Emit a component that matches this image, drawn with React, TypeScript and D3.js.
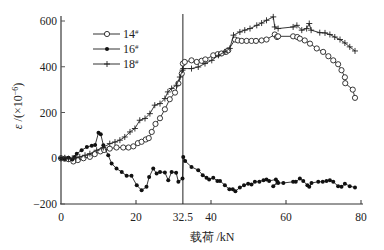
import React from "react";
import * as d3 from "d3";

const xTicks = [0, 20, 32.5, 40, 60, 80];
const yTicks = [-200, 0, 200, 400, 600];

const s14x = [0,1,2,3.3,4.5,6,7.7,9,10.5,11.5,13,14.8,16.6,18,19.3,20.5,21.5,22.6,23.4,24.2,25.2,26.4,27.7,29,30.4,31.3,32.2,32.5,33,34.8,36.2,37.5,38.5,40.6,41.8,42.8,44,44.6,46.4,47.2,48.2,49.5,50.8,52,53.5,54.8,57,57.6,57.9,61.9,63,63.7,65,66.4,68.2,69.9,71.3,72.6,73.9,74.8,75.7,75.8,77.8,78.4];
const s14y = [0,-2,-4,-14,-8,0,6,18,30,36,42,47,47,47,52,66,72,82,88,115,150,175,214,258,287,327,370,414,421,428,421,426,432,450,455,458,465,472,519,515,513,513,513,513,515,519,541,530,533,533,530,523,515,501,480,465,446,428,411,385,354,328,300,264];

const s16x = [0,1,2,3,3.6,4.2,5.5,6.9,8.2,9.1,10,10.6,11.3,12.6,13.5,14.8,16.2,17.5,18.8,20.2,21.5,22.8,23.5,24.6,25.5,26.4,27.7,28.6,29.5,30.7,31.3,32.4,32.6,33.1,34.8,36.6,37.8,38.8,39.5,40.6,41.7,42.4,43.7,44.9,45.8,46.5,47.7,48.8,49.9,50.8,51.7,52.9,54,54.8,55.5,57.3,57.7,56.6,57.9,59.3,61.9,62.6,63.7,64.6,65.7,66.2,66.8,68.6,69.8,70.8,71.7,72.6,73.9,74.8,75.7,77,78.4];
const s16y = [0,-3,2,-5,5,20,35,49,55,58,111,105,57,13,-23,-45,-60,-77,-77,-118,-140,-125,-82,-45,-67,-60,-62,-96,-60,-63,-103,-89,6,-12,-38,-52,-74,-85,-93,-85,-99,-99,-118,-136,-136,-144,-128,-118,-111,-115,-103,-103,-96,-93,-99,-93,-103,-122,-108,-108,-103,-103,-89,-99,-118,-125,-108,-103,-103,-99,-96,-103,-122,-125,-111,-122,-128];

const s18x = [0,1,2,3,4,5,6.4,7.7,9.5,11.3,13,14.4,15.7,17,18.4,19.7,21,22.4,23.7,25,26.4,27.7,28.5,29.5,30.8,31.7,32.4,32.6,34.8,36.6,38.4,40.2,42,43.7,45,46,47.7,49,50.4,52.2,53.5,54.8,56.6,57,57.9,61.9,62.9,64.2,65.5,66.2,66.7,69,70.4,71.7,73,74.4,75.7,77,78.4];
const s18y = [0,2,-2,0,2,6,13,20,35,47,64,71,79,93,115,130,166,174,195,232,239,261,290,305,319,355,385,392,392,399,414,428,450,465,480,538,552,560,567,581,591,603,618,574,567,574,581,560,567,589,560,549,548,541,530,519,504,487,469];

const legendLabels = ["14", "16", "18"];

const W = 384, H = 250;
const x = d3.scaleLinear().domain([0, 80]).range([61, 361]);
const y = d3.scaleLinear().domain([-200, 600]).range([204, 21]);
const line = d3.line<[number, number]>().x(d => x(d[0])).y(d => y(d[1]));
const zip = (a: number[], b: number[]) => a.map((v, i) => [v, b[i]] as [number, number]);

const FONT = "'Liberation Serif', 'DejaVu Serif', serif";

function Marker({ kind, cx, cy }: { kind: string; cx: number; cy: number }) {
  if (kind === "circle") return <circle cx={cx} cy={cy} r={2.6} fill="white" stroke="#222" strokeWidth={0.9} />;
  if (kind === "dot") return <circle cx={cx} cy={cy} r={2} fill="#111" />;
  return <path d={`M${cx - 3},${cy}H${cx + 3}M${cx},${cy - 3}V${cy + 3}`} stroke="#222" strokeWidth={0.9} />;
}

export default function App() {
  const series = [
    { kind: "circle", pts: zip(s14x, s14y) },
    { kind: "dot", pts: zip(s16x, s16y) },
    { kind: "plus", pts: zip(s18x, s18y) },
  ];
  return (
    <svg width={W} height={H} style={{ position: "absolute", left: 0, top: 0, background: "white" }} fontFamily={FONT}>
      {/* axes */}
      <line x1={61} y1={16} x2={61} y2={204} stroke="#888" strokeWidth={2} />
      <line x1={60} y1={204} x2={363} y2={204} stroke="#333" strokeWidth={1} />
      {yTicks.map(t => (
        <g key={t}>
          <line x1={61} x2={65} y1={y(t)} y2={y(t)} stroke="#555" strokeWidth={1} />
          <text x={57} y={y(t) + 4} textAnchor="end" fontSize={11.5} fill="#222">{t < 0 ? "\u2212" + Math.abs(t) : t}</text>
        </g>
      ))}
      {xTicks.map(t => (
        <g key={t}>
          {t !== 32.5 && t !== 0 && <line x1={x(t)} x2={x(t)} y1={204} y2={200} stroke="#333" strokeWidth={1} />}
          <text x={x(t)} y={221} textAnchor="middle" fontSize={11.5} fill="#222">{t}</text>
        </g>
      ))}
      <line x1={x(32.5)} x2={x(32.5)} y1={14} y2={204} stroke="#222" strokeWidth={1} />
      {/* series */}
      {series.map((s, i) => (
        <g key={i}>
          <path d={line(s.pts) || ""} fill="none" stroke="#222" strokeWidth={0.9} />
          {s.pts.map((p, j) => <Marker key={j} kind={s.kind} cx={x(p[0])} cy={y(p[1])} />)}
        </g>
      ))}
      {/* legend */}
      {series.map((s, i) => {
        const ly = 34 + i * 15;
        return (
          <g key={i}>
            <line x1={93} x2={120} y1={ly} y2={ly} stroke="#333" strokeWidth={1} />
            <Marker kind={s.kind} cx={107} cy={ly} />
            <text x={123} y={ly + 4} fontSize={12} fill="#222">{legendLabels[i]}<tspan dy={-4} fontSize={7}>#</tspan></text>
          </g>
        );
      })}
      {/* axis titles */}
      <text transform="translate(22,106) rotate(-90)" textAnchor="middle" fontSize={12} fill="#222">
        <tspan fontStyle="italic">ε</tspan> /(×10<tspan dy={-4} fontSize={8}>−6</tspan><tspan dy={4}>)</tspan>
      </text>
      <text x={212} y={241} textAnchor="middle" fontSize={12} fill="#222">载荷 /kN</text>
    </svg>
  );
}
